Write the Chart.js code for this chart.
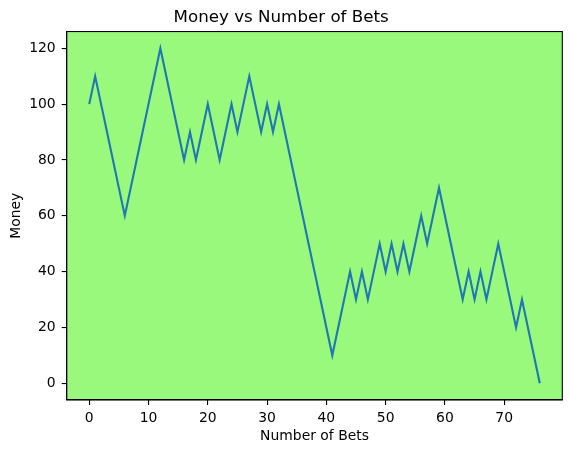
<!DOCTYPE html>
<html>
<head>
<meta charset="utf-8">
<script src="https://cdn.jsdelivr.net/npm/chart.js@4.4.0/dist/chart.umd.min.js"></script>
<style>
  html, body { margin: 0; padding: 0; background: #ffffff; }
  #c { display: block; }
</style>
</head>
<body>
<canvas id="c" width="571" height="453"></canvas>
<script>
// ---- Data ----
const betNumbers = [0,1,2,3,4,5,6,7,8,9,10,11,12,13,14,15,16,17,18,19,20,21,22,23,24,25,26,27,28,29,30,31,32,33,34,35,36,37,38,39,40,41,42,43,44,45,46,47,48,49,50,51,52,53,54,55,56,57,58,59,60,61,62,63,64,65,66,67,68,69,70,71,72,73,74,75,76];
const money = [100,110,100,90,80,70,60,70,80,90,100,110,120,110,100,90,80,90,80,90,100,90,80,90,100,90,100,110,100,90,100,90,100,90,80,70,60,50,40,30,20,10,20,30,40,30,40,30,40,50,40,50,40,50,40,50,60,50,60,70,60,50,40,30,40,30,40,30,40,50,40,30,20,30,20,10,0];
const xTicks = [0,10,20,30,40,50,60,70];
const yTicks = [0,20,40,60,80,100,120];

const FONT = "'DejaVu Sans', sans-serif";

const plotFrame = {
  id: 'plotFrame',
  beforeDraw(chart) {
    const {ctx, chartArea: a} = chart;
    ctx.save();
    ctx.fillStyle = '#98F97C';
    ctx.fillRect(a.left, a.top, a.right - a.left, a.bottom - a.top);
    ctx.restore();
  },
  afterDraw(chart) {
    const {ctx, chartArea: a} = chart;
    ctx.save();
    ctx.strokeStyle = '#000000';
    ctx.lineWidth = 1.1;
    ctx.strokeRect(a.left, a.top, a.right - a.left, a.bottom - a.top);
    ctx.restore();
  }
};

new Chart(document.getElementById('c'), {
  type: 'line',
  data: {
    labels: betNumbers,
    datasets: [{
      data: money,
      borderColor: '#1f77b4',
      borderWidth: 2.1,
      pointRadius: 0,
      tension: 0,
      fill: false
    }]
  },
  options: {
    responsive: false,
    devicePixelRatio: 1,
    animation: false,
    layout: { padding: { left: 0, right: 8.7, top: 0, bottom: 0 } },
    plugins: {
      legend: { display: false },
      tooltip: { enabled: false },
      title: {
        display: true,
        text: 'Money vs Number of Bets',
        color: '#000000',
        font: { family: FONT, size: 16.7, weight: 'normal', lineHeight: 1.2 },
        padding: { top: 8, bottom: 3.5 }
      }
    },
    scales: {
      x: {
        type: 'linear',
        min: -3.8,
        max: 79.8,
        afterBuildTicks(s) { s.ticks = xTicks.map(v => ({ value: v })); },
        afterFit(s) { s.height = 53; },
        grid: { display: true, drawOnChartArea: false, drawTicks: true, tickLength: 5, color: '#000000', lineWidth: 1.1 },
        border: { display: true, color: '#000000', width: 1.1 },
        ticks: { color: '#000000', padding: 5, maxRotation: 0, font: { family: FONT, size: 13.9 } },
        title: { display: true, text: 'Number of Bets', color: '#000000', font: { family: FONT, size: 13.9 }, padding: { top: 0, bottom: 8.5 } }
      },
      y: {
        type: 'linear',
        min: -6,
        max: 126,
        afterBuildTicks(s) { s.ticks = yTicks.map(v => ({ value: v })); },
        afterFit(s) { s.width = 66.7; },
        grid: { display: true, drawOnChartArea: false, drawTicks: true, tickLength: 5, color: '#000000', lineWidth: 1.1 },
        border: { display: true, color: '#000000', width: 1.1 },
        ticks: { color: '#000000', padding: 6, font: { family: FONT, size: 13.9 } },
        title: { display: true, text: 'Money', color: '#000000', font: { family: FONT, size: 13.9 }, padding: { top: 8.5, bottom: 0 } }
      }
    }
  },
  plugins: [plotFrame]
});
</script>
</body>
</html>
